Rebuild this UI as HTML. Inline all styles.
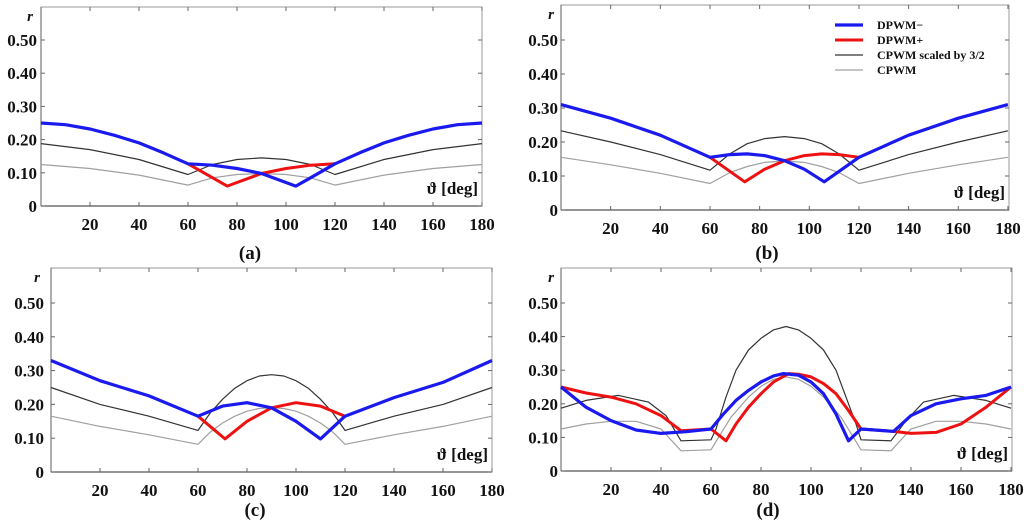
<!DOCTYPE html>
<html><head><meta charset="utf-8">
<style>
html,body{margin:0;padding:0;background:#fff;}
svg{display:block;}
text{font-family:"Liberation Serif",serif;font-weight:bold;fill:#111;}
</style></head>
<body>
<svg id="chart" width="1024" height="527" viewBox="0 0 1024 527" xmlns="http://www.w3.org/2000/svg"></svg>
<script>
// ---- data (degrees, r values) ----
const xTicks = [20,40,60,80,100,120,140,160,180];
const yTicks = [0,0.10,0.20,0.30,0.40,0.50];
const yTickLabels = ["0","0.10","0.20","0.30","0.40","0.50"];
const panelLabels = ["(a)","(b)","(c)","(d)"];
const legendLabels = ["DPWM\u2212","DPWM+","CPWM scaled by 3/2","CPWM"];

const aBlueX=[0,10,20,30,40,50,60,70,80,90,104,110,120,130,140,150,160,170,180];
const aBlueY=[.25,.245,.232,.213,.19,.16,.127,.123,.113,.098,.06,.085,.127,.16,.19,.213,.232,.245,.25];
const aRedX=[60,76,90,100,110,120];
const aRedY=[.127,.06,.098,.113,.123,.127];
const aBlackX=[0,20,40,60,70,80,90,100,110,120,140,160,180];
const aBlackY=[.188,.17,.14,.095,.125,.14,.145,.14,.125,.095,.14,.17,.188];
const aGrayX=[0,20,40,60,70,80,90,100,110,120,140,160,180];
const aGrayY=[.125,.113,.093,.063,.085,.095,.098,.095,.085,.063,.093,.113,.125];

const bBlueX=[0,20,40,60,68,75,82,90,98,106,120,140,160,180];
const bBlueY=[.31,.27,.22,.155,.163,.165,.16,.145,.12,.083,.155,.22,.27,.31];
const bRedX=[60,74,82,90,98,105,112,120];
const bRedY=[.155,.083,.12,.145,.16,.165,.163,.155];
const bBlackX=[0,20,40,60,68,75,82,90,98,105,112,120,140,160,180];
const bBlackY=[.233,.2,.163,.117,.165,.195,.21,.216,.21,.195,.165,.117,.163,.2,.233];
const bGrayX=[0,20,40,60,68,75,82,90,98,105,112,120,140,160,180];
const bGrayY=[.155,.133,.108,.078,.11,.128,.14,.144,.14,.128,.11,.078,.108,.133,.155];

const cBlueX=[0,20,40,60,70,80,90,100,110,120,140,160,180];
const cBlueY=[.33,.27,.225,.165,.195,.205,.19,.15,.098,.165,.22,.265,.33];
const cRedX=[60,71,80,90,100,110,120];
const cRedY=[.165,.098,.15,.19,.205,.195,.165];
const cBlackX=[0,20,40,60,65,70,75,80,85,90,95,100,105,110,115,120,140,160,180];
const cBlackY=[.25,.2,.165,.123,.175,.215,.248,.27,.284,.288,.284,.27,.248,.215,.175,.123,.165,.2,.25];
const cGrayX=[0,20,40,60,65,70,75,80,85,90,95,100,105,110,115,120,140,160,180];
const cGrayY=[.165,.135,.11,.082,.118,.145,.165,.18,.188,.19,.188,.18,.165,.145,.118,.082,.11,.135,.165];

const dBlueX=[0,10,20,30,40,50,60,65,70,75,80,85,89,95,100,105,110,115,120,133,140,150,160,170,180];
const dBlueY=[.25,.19,.15,.122,.112,.117,.125,.17,.21,.24,.265,.283,.29,.285,.265,.23,.17,.09,.125,.118,.165,.2,.215,.225,.25];
const dRedX=[0,10,20,30,40,48,60,66,70,75,80,85,91,95,100,105,110,115,120,133,140,150,160,170,180];
const dRedY=[.25,.232,.22,.2,.165,.12,.125,.09,.14,.19,.23,.265,.29,.288,.28,.26,.23,.18,.125,.118,.112,.115,.14,.19,.25];
const dBlackX=[0,10,23,35,42,48,60,62,66,70,75,80,85,90,95,100,105,110,114,118,120,132,138,145,157,170,180];
const dBlackY=[.187,.21,.225,.205,.165,.09,.093,.125,.22,.3,.36,.395,.42,.43,.42,.395,.36,.3,.22,.14,.093,.09,.15,.205,.225,.21,.187];
const dGrayX=[0,10,20,30,40,48,60,63,68,75,80,85,90,95,100,105,112,117,120,132,140,150,160,170,180];
const dGrayY=[.125,.14,.148,.148,.125,.06,.063,.1,.16,.22,.252,.273,.28,.273,.252,.22,.16,.1,.063,.06,.125,.148,.148,.14,.125];

// ---- layout ----
const panels=[
 {id:'a',x0:41,sx:2.45,right:482,y0:206,sy:332,top:7,lab:[250,253],ylab:37,series:[[aGrayX,aGrayY],[aBlackX,aBlackY],[aRedX,aRedY],[aBlueX,aBlueY]],legend:false},
 {id:'b',x0:561,sx:2.483,right:1009,y0:210,sy:340,top:5,lab:[767,253],ylab:558,series:[[bGrayX,bGrayY],[bBlackX,bBlackY],[bRedX,bRedY],[bBlueX,bBlueY]],legend:true},
 {id:'c',x0:51,sx:2.45,right:492,y0:472,sy:338,top:268,lab:[255,510],ylab:44,series:[[cGrayX,cGrayY],[cBlackX,cBlackY],[cRedX,cRedY],[cBlueX,cBlueY]],legend:false},
 {id:'d',x0:561,sx:2.5,right:1012,y0:471,sy:336,top:268,lab:[768,510],ylab:558,series:[[dGrayX,dGrayY],[dBlackX,dBlackY],[dRedX,dRedY],[dBlueX,dBlueY]],legend:false}
];
const styles=[{c:'#a0a0a0',w:1.2,n:'cpwm'},{c:'#333',w:1.2,n:'cpwm-scaled'},{c:'#ee1111',w:3,n:'dpwm-plus'},{c:'#1a1aee',w:3.2,n:'dpwm-minus'}];
const NS='http://www.w3.org/2000/svg';
const svg=document.getElementById('chart');
function mk(tag,attrs,parent){const e=document.createElementNS(NS,tag);for(const k in attrs)e.setAttribute(k,attrs[k]);(parent||svg).appendChild(e);return e;}

panels.forEach((p,pi)=>{
  const g=mk('g',{});
  
  
  const X=d=>p.x0+d*p.sx, Y=v=>p.y0-v*p.sy;
  const fr=mk('rect',{x:p.x0,y:p.top,width:p.right-p.x0,height:p.y0-p.top,fill:'none',stroke:'#9a9a9a','stroke-width':1},g);
  
  
  const ax=mk('line',{x1:p.x0,y1:p.y0,x2:p.right,y2:p.y0,stroke:'#555','stroke-width':1.3},g);
  
  
  const ay=mk('line',{x1:p.x0,y1:p.top,x2:p.x0,y2:p.y0,stroke:'#777','stroke-width':1.2},g);
  
  
  xTicks.forEach(t=>{
    mk('line',{x1:X(t),y1:p.y0,x2:X(t),y2:p.y0-4,stroke:'#666'},g);
    mk('line',{x1:X(t),y1:p.top,x2:X(t),y2:p.top+4,stroke:'#666'},g);
    const tx=mk('text',{x:X(t),y:p.y0+24,'text-anchor':'middle','font-size':17},g);
    tx.textContent=t;
    
    
  });
  yTicks.forEach((t,i)=>{
    mk('line',{x1:p.x0,y1:Y(t),x2:p.x0+4,y2:Y(t),stroke:'#666'},g);
    mk('line',{x1:p.right,y1:Y(t),x2:p.right-4,y2:Y(t),stroke:'#666'},g);
    const tx=mk('text',{x:p.ylab,y:Y(t)+6,'text-anchor':'end','font-size':17},g);
    tx.textContent=yTickLabels[i];
    
    
  });
  const r=mk('text',{x:p.ylab-4,y:p.top+14,'text-anchor':'end','font-size':15,'font-style':'italic'},g);
  r.textContent='r';
  
  
  const xt=mk('text',{x:p.right-4,y:p.y0-12,'text-anchor':'end','font-size':17},g);
  xt.textContent='\u03D1 [deg]';
  
  
  p.series.forEach((s,si)=>{
    const pts=s[0].map((d,i)=>X(d).toFixed(1)+','+Y(s[1][i]).toFixed(1)).join(' ');
    const pl=mk('polyline',{points:pts,fill:'none',stroke:styles[si].c,'stroke-width':styles[si].w,'stroke-linejoin':'round'},g);
    
    
  });
  const pl=mk('text',{x:p.lab[0],y:p.lab[1]+6,'text-anchor':'middle','font-size':19,'font-weight':'normal'},g);
  pl.textContent=panelLabels[pi];
  
  
  if(p.legend){
    const lg=mk('g',{},g);
    
    
    const order=[3,2,1,0];
    legendLabels.forEach((l,i)=>{
      const st=styles[order[i]], yy=25+i*15;
      mk('line',{x1:835,y1:yy,x2:863,y2:yy,stroke:st.c,'stroke-width':st.w},lg);
      const t=mk('text',{x:877,y:yy+4,'font-size':12},lg);
      t.textContent=l;
      
      
    });
  }
});
</script>
</body></html>
